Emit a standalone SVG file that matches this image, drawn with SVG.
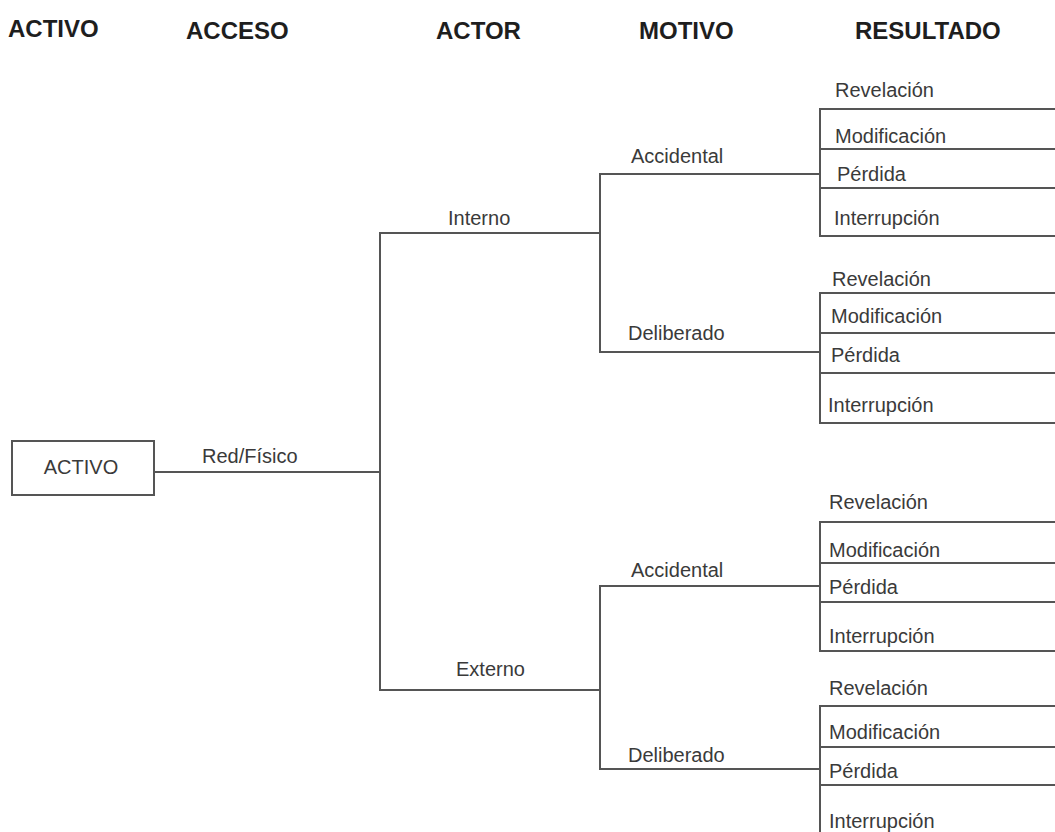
<svg xmlns="http://www.w3.org/2000/svg" width="1055" height="832" viewBox="0 0 1055 832">
  <style>
    .hdr { font-family: "Liberation Sans", Arial, sans-serif; font-size: 24px; font-weight: bold; fill: #1e1e1e; }
    .lbl { font-family: "Liberation Sans", Arial, sans-serif; font-size: 20px; fill: #3a3a3a; }
    .ln { stroke: #555; stroke-width: 2; fill: none; stroke-linecap: square; }
    .box { stroke: #555; stroke-width: 2; fill: #fff; }
  </style>
  <rect width="1055" height="832" fill="#fff"/>

  <!-- column headers -->
  <g id="headers">
    <text class="hdr" x="8" y="37">ACTIVO</text>
    <text class="hdr" x="186" y="39">ACCESO</text>
    <text class="hdr" x="436" y="39">ACTOR</text>
    <text class="hdr" x="639" y="39">MOTIVO</text>
    <text class="hdr" x="855" y="39">RESULTADO</text>
  </g>

  <!-- tree connectors -->
  <g id="connectors" class="ln">
    <!-- asset to access -->
    <path d="M154 472 H380"/>
    <!-- access to actors -->
    <path d="M380 233 V690"/>
    <path d="M380 233 H600"/>
    <path d="M380 690 H600"/>
    <!-- internal actor to motives -->
    <path d="M600 174 V352"/>
    <path d="M600 174 H820"/>
    <path d="M600 352 H820"/>
    <!-- external actor to motives -->
    <path d="M600 586 V769"/>
    <path d="M600 586 H820"/>
    <path d="M600 769 H820"/>
    <!-- result brackets -->
    <path d="M820 109 V236 M820 109 H1055 M820 149 H1055 M820 188 H1055 M820 236 H1055"/>
    <path d="M820 293 V423 M820 293 H1055 M820 333 H1055 M820 373 H1055 M820 423 H1055"/>
    <path d="M820 522 V651 M820 522 H1055 M820 563 H1055 M820 602 H1055 M820 651 H1055"/>
    <path d="M820 706 V832 M820 706 H1055 M820 747 H1055 M820 785 H1055"/>
  </g>

  <g id="activo">
    <rect class="box" x="12" y="441" width="142" height="54"/>
    <text class="lbl" x="81" y="474" text-anchor="middle">ACTIVO</text>
  </g>
  <g id="acceso">
    <text class="lbl" x="202" y="463">Red/Físico</text>
  </g>
  <g id="actor-interno">
    <text class="lbl" x="448" y="225">Interno</text>
  </g>
  <g id="actor-externo">
    <text class="lbl" x="456" y="676">Externo</text>
  </g>
  <g id="motivo-interno-accidental">
    <text class="lbl" x="631" y="163">Accidental</text>
  </g>
  <g id="motivo-interno-deliberado">
    <text class="lbl" x="628" y="340">Deliberado</text>
  </g>
  <g id="motivo-externo-accidental">
    <text class="lbl" x="631" y="577">Accidental</text>
  </g>
  <g id="motivo-externo-deliberado">
    <text class="lbl" x="628" y="762">Deliberado</text>
  </g>

  <g id="resultado-1">
    <text class="lbl" x="835" y="97">Revelación</text>
    <text class="lbl" x="835" y="143">Modificación</text>
    <text class="lbl" x="837" y="181">Pérdida</text>
    <text class="lbl" x="834" y="225">Interrupción</text>
  </g>
  <g id="resultado-2">
    <text class="lbl" x="832" y="286">Revelación</text>
    <text class="lbl" x="831" y="323">Modificación</text>
    <text class="lbl" x="831" y="362">Pérdida</text>
    <text class="lbl" x="828" y="412">Interrupción</text>
  </g>
  <g id="resultado-3">
    <text class="lbl" x="829" y="509">Revelación</text>
    <text class="lbl" x="829" y="557">Modificación</text>
    <text class="lbl" x="829" y="594">Pérdida</text>
    <text class="lbl" x="829" y="643">Interrupción</text>
  </g>
  <g id="resultado-4">
    <text class="lbl" x="829" y="695">Revelación</text>
    <text class="lbl" x="829" y="739">Modificación</text>
    <text class="lbl" x="829" y="778">Pérdida</text>
    <text class="lbl" x="829" y="828">Interrupción</text>
  </g>
</svg>
